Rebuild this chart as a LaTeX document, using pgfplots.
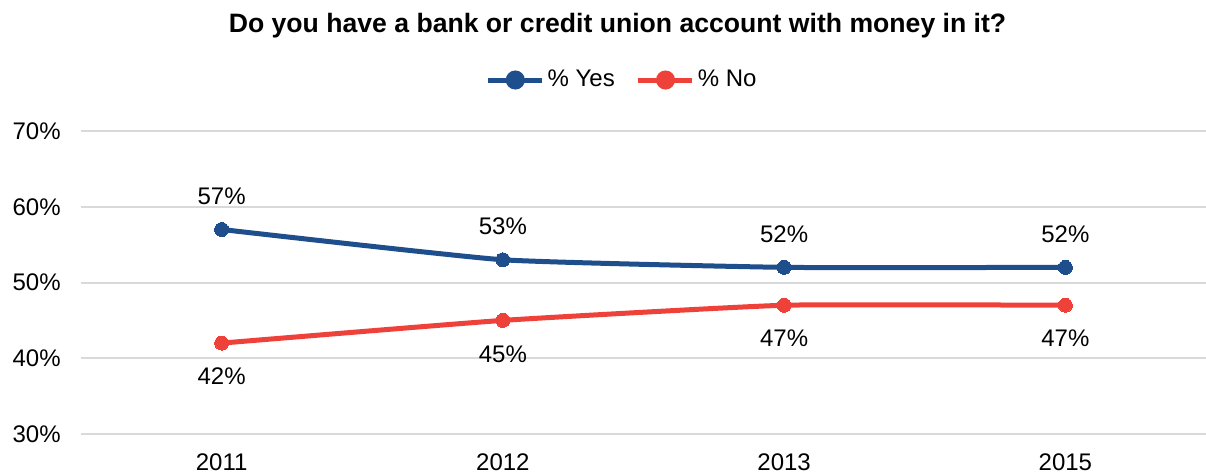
\documentclass[border=0pt]{standalone}
\usepackage{pgfplots}
\pgfplotsset{compat=1.18}
\usepackage{fontspec}
\setmainfont{Liberation Sans}
\definecolor{yescol}{RGB}{31,78,140}
\definecolor{nocol}{RGB}{238,65,57}
\definecolor{gridcol}{RGB}{217,217,217}
\begin{document}
\fontsize{12}{14}\selectfont
\begin{tikzpicture}
\begin{axis}[
  at={(0,0)}, anchor=south west,
  scale only axis, width=562.5pt, height=151.5pt,
  xmin=-0.5, xmax=3.5, ymin=30, ymax=70,
  xtick={0,1,2,3}, xticklabels={2011,2012,2013,2015},
  ytick={30,40,50,60,70},
  yticklabel={\pgfmathprintnumber{\tick}\%},
  /pgf/number format/assume math mode=true,
  major tick length=0pt,
  axis line style={draw=none},
  ymajorgrids, grid style={gridcol, line width=1pt},
  tick label style={font=\fontsize{12}{14}\selectfont, text=black},
  xticklabel style={yshift=-5.5pt},
  yticklabel style={xshift=-6pt},
  title={Do you have a bank or credit union account with money in it?},
  title style={at={(0.5,1)}, anchor=center, yshift=46.5pt, xshift=-13pt, font=\fontsize{13.3}{15}\selectfont\bfseries},
  legend style={at={(0.5,1)}, anchor=center, yshift=25.5pt, xshift=-10.5pt, draw=none, font=\fontsize{12}{14}\selectfont,
    column sep=0pt, nodes={inner sep=1.5pt}, /tikz/every even column/.append style={column sep=9pt}},
  legend columns=2,
  legend image code/.code={
    \draw[#1, mark=none] (0cm,0cm) -- (0.95cm,0cm);
    \fill[#1] (0.48cm,0cm) circle (3.5pt);
  },
  nodes near coords={\pgfmathprintnumber{\pgfplotspointmeta}\%},
  every node near coord/.append style={font=\fontsize{12}{14}\selectfont, text=black, anchor=center},
  clip=false,
]
\addplot[yescol, line width=2.5pt, smooth, tension=0.25, mark=*, mark size=3.5pt, mark options={solid, fill=yescol, draw=yescol, line width=0pt},
  every node near coord/.append style={yshift=16.75pt}]
  coordinates {(0,57) (1,53) (2,52) (3,52)};
\addlegendentry{\% Yes}
\addplot[nocol, line width=2.5pt, smooth, tension=0.25, mark=*, mark size=3.5pt, mark options={solid, fill=nocol, draw=nocol, line width=0pt},
  every node near coord/.append style={yshift=-16.75pt}]
  coordinates {(0,42) (1,45) (2,47) (3,47)};
\addlegendentry{\% No}
\end{axis}
\pgfresetboundingbox
\path[use as bounding box] (-40.5pt,-19.5pt) rectangle (562.5pt,217pt);
\end{tikzpicture}
\end{document}
